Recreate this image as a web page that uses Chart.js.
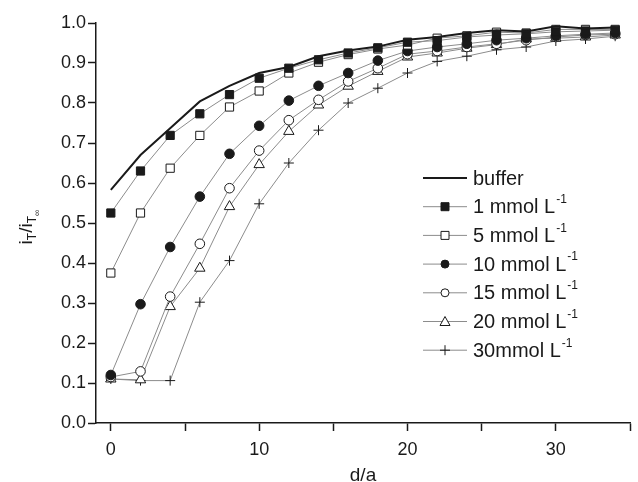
<!DOCTYPE html>
<html lang="en">
<head>
<meta charset="UTF-8" />
<title>iT/iT∞ versus d/a</title>
<script src="https://cdn.jsdelivr.net/npm/chart.js"></script>
<style>
  html, body { margin: 0; padding: 0; background: #fff; }
  #wrap { width: 638px; height: 482px; position: relative; }
</style>
</head>
<body>
<div id="wrap"><canvas id="approachChart"></canvas></div>
<script>
// d/a positions (every 2 units)
const distance = [0, 2, 4, 6, 8, 10, 12, 14, 16, 18, 20, 22, 24, 26, 28, 30, 32, 34];

// normalised tip current
const buffer = [0.583, 0.67, 0.737, 0.804, 0.843, 0.875, 0.89, 0.917, 0.931, 0.941, 0.958, 0.965, 0.975, 0.982, 0.979, 0.992, 0.986, 0.989];
const mmol1  = [0.525, 0.63, 0.719, 0.773, 0.821, 0.862, 0.887, 0.908, 0.925, 0.938, 0.952, 0.956, 0.965, 0.970, 0.973, 0.978, 0.980, 0.982];
const mmol5  = [0.375, 0.525, 0.637, 0.719, 0.79, 0.83, 0.875, 0.902, 0.921, 0.935, 0.945, 0.962, 0.968, 0.977, 0.975, 0.984, 0.984, 0.984];
const mmol10 = [0.12, 0.297, 0.44, 0.566, 0.673, 0.743, 0.806, 0.843, 0.875, 0.906, 0.93, 0.94, 0.948, 0.957, 0.962, 0.968, 0.972, 0.975];
const mmol15 = [0.115, 0.129, 0.316, 0.448, 0.587, 0.681, 0.757, 0.808, 0.854, 0.887, 0.922, 0.93, 0.94, 0.948, 0.957, 0.965, 0.97, 0.972];
const mmol20 = [0.11, 0.108, 0.291, 0.387, 0.541, 0.646, 0.729, 0.795, 0.842, 0.879, 0.915, 0.925, 0.937, 0.946, 0.96, 0.962, 0.965, 0.97];
const mmol30 = [0.11, 0.106, 0.106, 0.302, 0.406, 0.548, 0.65, 0.732, 0.8, 0.837, 0.875, 0.904, 0.917, 0.933, 0.94, 0.955, 0.96, 0.967];

const legendText = ["buffer", "1 mmol L", "5 mmol L", "10 mmol L", "15 mmol L", "20 mmol L", "30mmol L"];
const legendSup  = ["", "-1", "-1", "-1", "-1", "-1", "-1"];

const xTicks = [0, 5, 10, 15, 20, 25, 30, 35];
const xTickLabels = ["0", "", "10", "", "20", "", "30", ""];
const yTicks = [0, 0.1, 0.2, 0.3, 0.4, 0.5, 0.6, 0.7, 0.8, 0.9, 1.0];

const FONT = "'Liberation Sans', Arial, sans-serif";
const INK = "#1a1a1a";
const GREY = "#8c8c8c";

function pts(arr) {
  return distance.map((d, i) => ({ x: d, y: arr[i] }));
}

function series(label, arr, style, filled, radius) {
  return {
    label: label,
    data: pts(arr),
    borderColor: GREY,
    borderWidth: 1,
    pointStyle: style,
    pointRadius: radius,
    pointBackgroundColor: filled ? INK : "#fff",
    pointBorderColor: INK,
    pointBorderWidth: 1,
    tension: 0
  };
}

// legend with line-marker-line samples and superscripts
const legendPlugin = {
  id: "originLegend",
  afterDatasetsDraw(chart) {
    const ctx = chart.ctx;
    const a = chart.chartArea;
    const x0 = a.left + 327;
    const y0 = a.top + 155;
    const step = 28.7;
    ctx.save();
    chart.data.datasets.forEach((ds, i) => {
      const y = y0 + i * step;
      ctx.setLineDash([]);
      ctx.beginPath();
      ctx.moveTo(x0, y);
      ctx.lineTo(x0 + 44, y);
      ctx.strokeStyle = i === 0 ? INK : GREY;
      ctx.lineWidth = i === 0 ? 2 : 1;
      ctx.stroke();
      if (i > 0) {
        const cx = x0 + 22;
        ctx.fillStyle = ds.pointBackgroundColor;
        ctx.strokeStyle = INK;
        ctx.lineWidth = 1;
        ctx.beginPath();
        if (ds.pointStyle === "rect") {
          ctx.rect(cx - 4, y - 4, 8, 8);
          ctx.fill(); ctx.stroke();
        } else if (ds.pointStyle === "circle") {
          ctx.arc(cx, y, 4, 0, Math.PI * 2);
          ctx.fill(); ctx.stroke();
        } else if (ds.pointStyle === "triangle") {
          ctx.moveTo(cx, y - 5);
          ctx.lineTo(cx + 5, y + 4);
          ctx.lineTo(cx - 5, y + 4);
          ctx.closePath();
          ctx.fill(); ctx.stroke();
        } else {
          ctx.moveTo(cx - 5, y); ctx.lineTo(cx + 5, y);
          ctx.moveTo(cx, y - 5); ctx.lineTo(cx, y + 5);
          ctx.stroke();
        }
      }
      ctx.fillStyle = INK;
      ctx.textBaseline = "middle";
      ctx.textAlign = "left";
      ctx.font = "20px " + FONT;
      const tx = x0 + 50;
      ctx.fillText(legendText[i], tx, y + 1);
      if (legendSup[i]) {
        const w = ctx.measureText(legendText[i]).width;
        ctx.font = "12px " + FONT;
        ctx.fillText(legendSup[i], tx + w + 1, y - 7);
      }
    });
    ctx.restore();
  }
};

// axis titles: d/a and i_T / i_T∞ with subscripts
const titlePlugin = {
  id: "axisTitles",
  afterDraw(chart) {
    const ctx = chart.ctx;
    const a = chart.chartArea;
    ctx.save();
    ctx.fillStyle = INK;
    ctx.textBaseline = "alphabetic";
    ctx.textAlign = "center";
    ctx.font = "19px " + FONT;
    ctx.fillText("d/a", (a.left + a.right) / 2, a.bottom + 58);

    const parts = [
      { t: "i", size: 19, dy: 0 },
      { t: "T", size: 12, dy: 4 },
      { t: "/", size: 19, dy: 0 },
      { t: "i", size: 19, dy: 0 },
      { t: "T", size: 12, dy: 4 },
      { t: "∞", size: 9, dy: 8 }
    ];
    let total = 0;
    parts.forEach(p => {
      ctx.font = p.size + "px " + FONT;
      p.w = ctx.measureText(p.t).width;
      total += p.w;
    });
    ctx.translate(32, (a.top + a.bottom) / 2 + 4);
    ctx.rotate(-Math.PI / 2);
    ctx.textAlign = "left";
    let x = -total / 2;
    parts.forEach(p => {
      ctx.font = p.size + "px " + FONT;
      ctx.fillText(p.t, x, p.dy);
      x += p.w;
    });
    ctx.restore();
  }
};

new Chart(document.getElementById("approachChart"), {
  type: "line",
  data: {
    datasets: [
      {
        label: "buffer",
        data: pts(buffer),
        borderColor: INK,
        borderWidth: 2,
        pointRadius: 0,
        tension: 0
      },
      series("1 mmol L-1", mmol1, "rect", true, 5.8),
      series("5 mmol L-1", mmol5, "rect", false, 5.8),
      series("10 mmol L-1", mmol10, "circle", true, 4.8),
      series("15 mmol L-1", mmol15, "circle", false, 4.8),
      series("20 mmol L-1", mmol20, "triangle", false, 6),
      series("30mmol L-1", mmol30, "cross", false, 5)
    ]
  },
  options: {
    responsive: true,
    maintainAspectRatio: false,
    animation: false,
    devicePixelRatio: 1,
    layout: { padding: { top: 23, right: 0, bottom: 0, left: 0 } },
    plugins: {
      legend: { display: false },
      tooltip: { enabled: false }
    },
    scales: {
      x: {
        type: "linear",
        min: -1,
        max: 35,
        afterBuildTicks: s => { s.ticks = xTicks.map(v => ({ value: v })); },
        afterFit: s => { s.height = 59; },
        border: { color: INK, width: 1.5 },
        grid: { drawOnChartArea: false, tickLength: 8, tickColor: INK, tickWidth: 1.5 },
        ticks: {
          autoSkip: false,
          maxRotation: 0,
          padding: 8,
          color: INK,
          font: { family: FONT, size: 18 },
          callback: (v, i) => xTickLabels[i]
        }
      },
      y: {
        min: 0,
        max: 1,
        afterBuildTicks: s => { s.ticks = yTicks.map(v => ({ value: v })); },
        afterFit: s => { s.width = 96; },
        border: { color: INK, width: 1.5 },
        grid: { drawOnChartArea: false, tickLength: 8, tickColor: INK, tickWidth: 1.5 },
        ticks: {
          padding: 2,
          color: INK,
          font: { family: FONT, size: 18 },
          callback: v => v.toFixed(1)
        }
      }
    }
  },
  plugins: [legendPlugin, titlePlugin]
});
</script>
</body>
</html>
